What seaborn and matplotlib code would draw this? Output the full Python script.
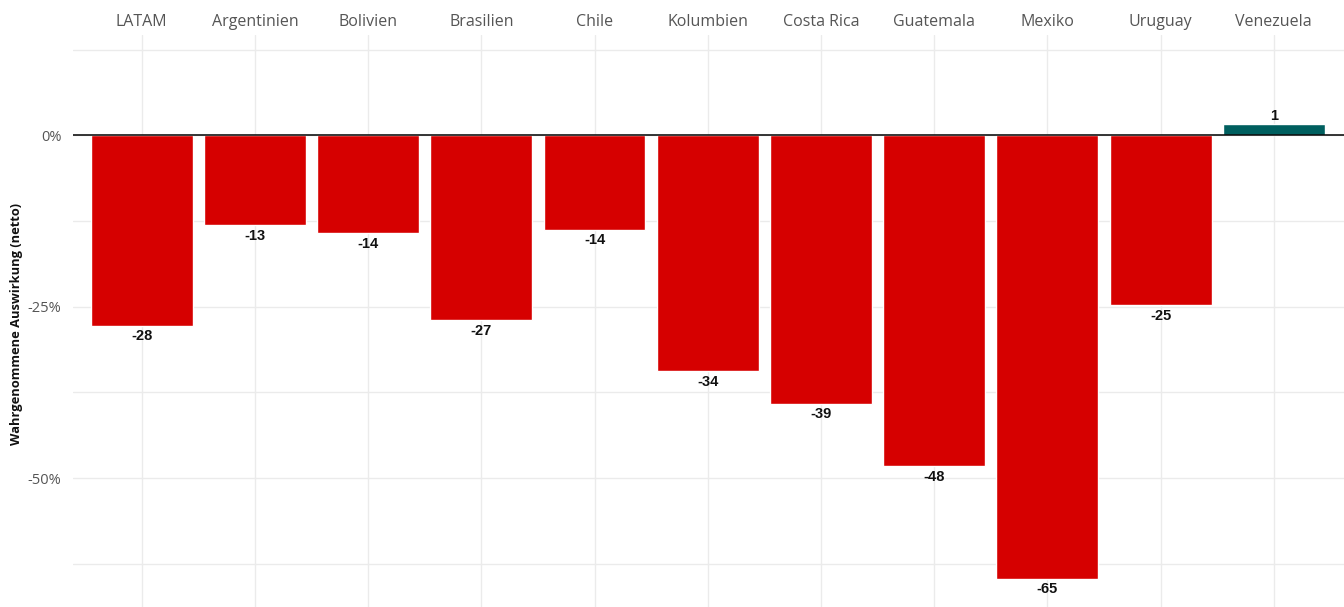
import matplotlib
matplotlib.use("Agg")
import matplotlib.pyplot as plt
import seaborn as sns
import pandas as pd
from matplotlib.ticker import FixedLocator, FuncFormatter

# values (percent, net perceived impact)
countries = ["LATAM", "Argentinien", "Bolivien", "Brasilien", "Chile", "Kolumbien",
             "Costa Rica", "Guatemala", "Mexiko", "Uruguay", "Venezuela"]
values = [-27.8, -13.1, -14.3, -27.0, -13.8, -34.4, -39.2, -48.3, -64.7, -24.8, 1.6]
labels = ["-28", "-13", "-14", "-27", "-14", "-34", "-39", "-48", "-65", "-25", "1"]

df = pd.DataFrame({"land": countries, "wert": values})
df["farbe"] = ["neg" if v < 0 else "pos" for v in values]

sns.set_style("white")
plt.rcParams["font.family"] = ["Open Sans", "DejaVu Sans"]

fig, ax = plt.subplots(figsize=(13.44, 6.07), dpi=100)
fig.subplots_adjust(left=0.054, right=1.0, top=0.942, bottom=0.0)

sns.barplot(data=df, x="land", y="wert", hue="farbe",
            palette={"neg": "#D60000", "pos": "#005F5F"}, saturation=1,
            dodge=False, width=0.9, legend=False, ax=ax, zorder=2)

ax.axhline(0, color="black", lw=1.1, zorder=3)

ax.set_ylim(-68.8, 14.6)
ax.set_xlim(-0.61, 10.62)

ax.yaxis.set_major_locator(FixedLocator([0, -25, -50]))
ax.yaxis.set_minor_locator(FixedLocator([12.5, -12.5, -37.5, -62.5]))
ax.yaxis.set_major_formatter(FuncFormatter(lambda v, p: f"{v:.0f}%"))
ax.grid(True, which="both", axis="y", color="#EBEBEB", lw=1.0, zorder=0)
ax.grid(True, which="major", axis="x", color="#EBEBEB", lw=1.0, zorder=0)
ax.set_axisbelow(True)

ax.xaxis.tick_top()
ax.set_xlabel("")
ax.set_ylabel("")
ax.tick_params(axis="x", length=0, pad=4, labelsize=11.5, labelcolor="#555555")
ax.tick_params(axis="y", which="both", length=0, pad=8, labelsize=10.5, labelcolor="#555555")
fig.text(0.012, 0.466, "Wahrgenommene Auswirkung (netto)", rotation=90,
         ha="center", va="center", fontsize=9.3, fontweight="bold", color="#111111")

for s in ax.spines.values():
    s.set_visible(False)

for i, (v, t) in enumerate(zip(values, labels)):
    off = -7.5 if v < 0 else 6
    ax.annotate(t, (i, v), xytext=(0, off), textcoords="offset points",
                ha="center", va="center", fontsize=10.5, fontweight="bold",
                family=["Liberation Sans", "DejaVu Sans"], color="#111111")

fig.savefig("out.png", dpi=100)
